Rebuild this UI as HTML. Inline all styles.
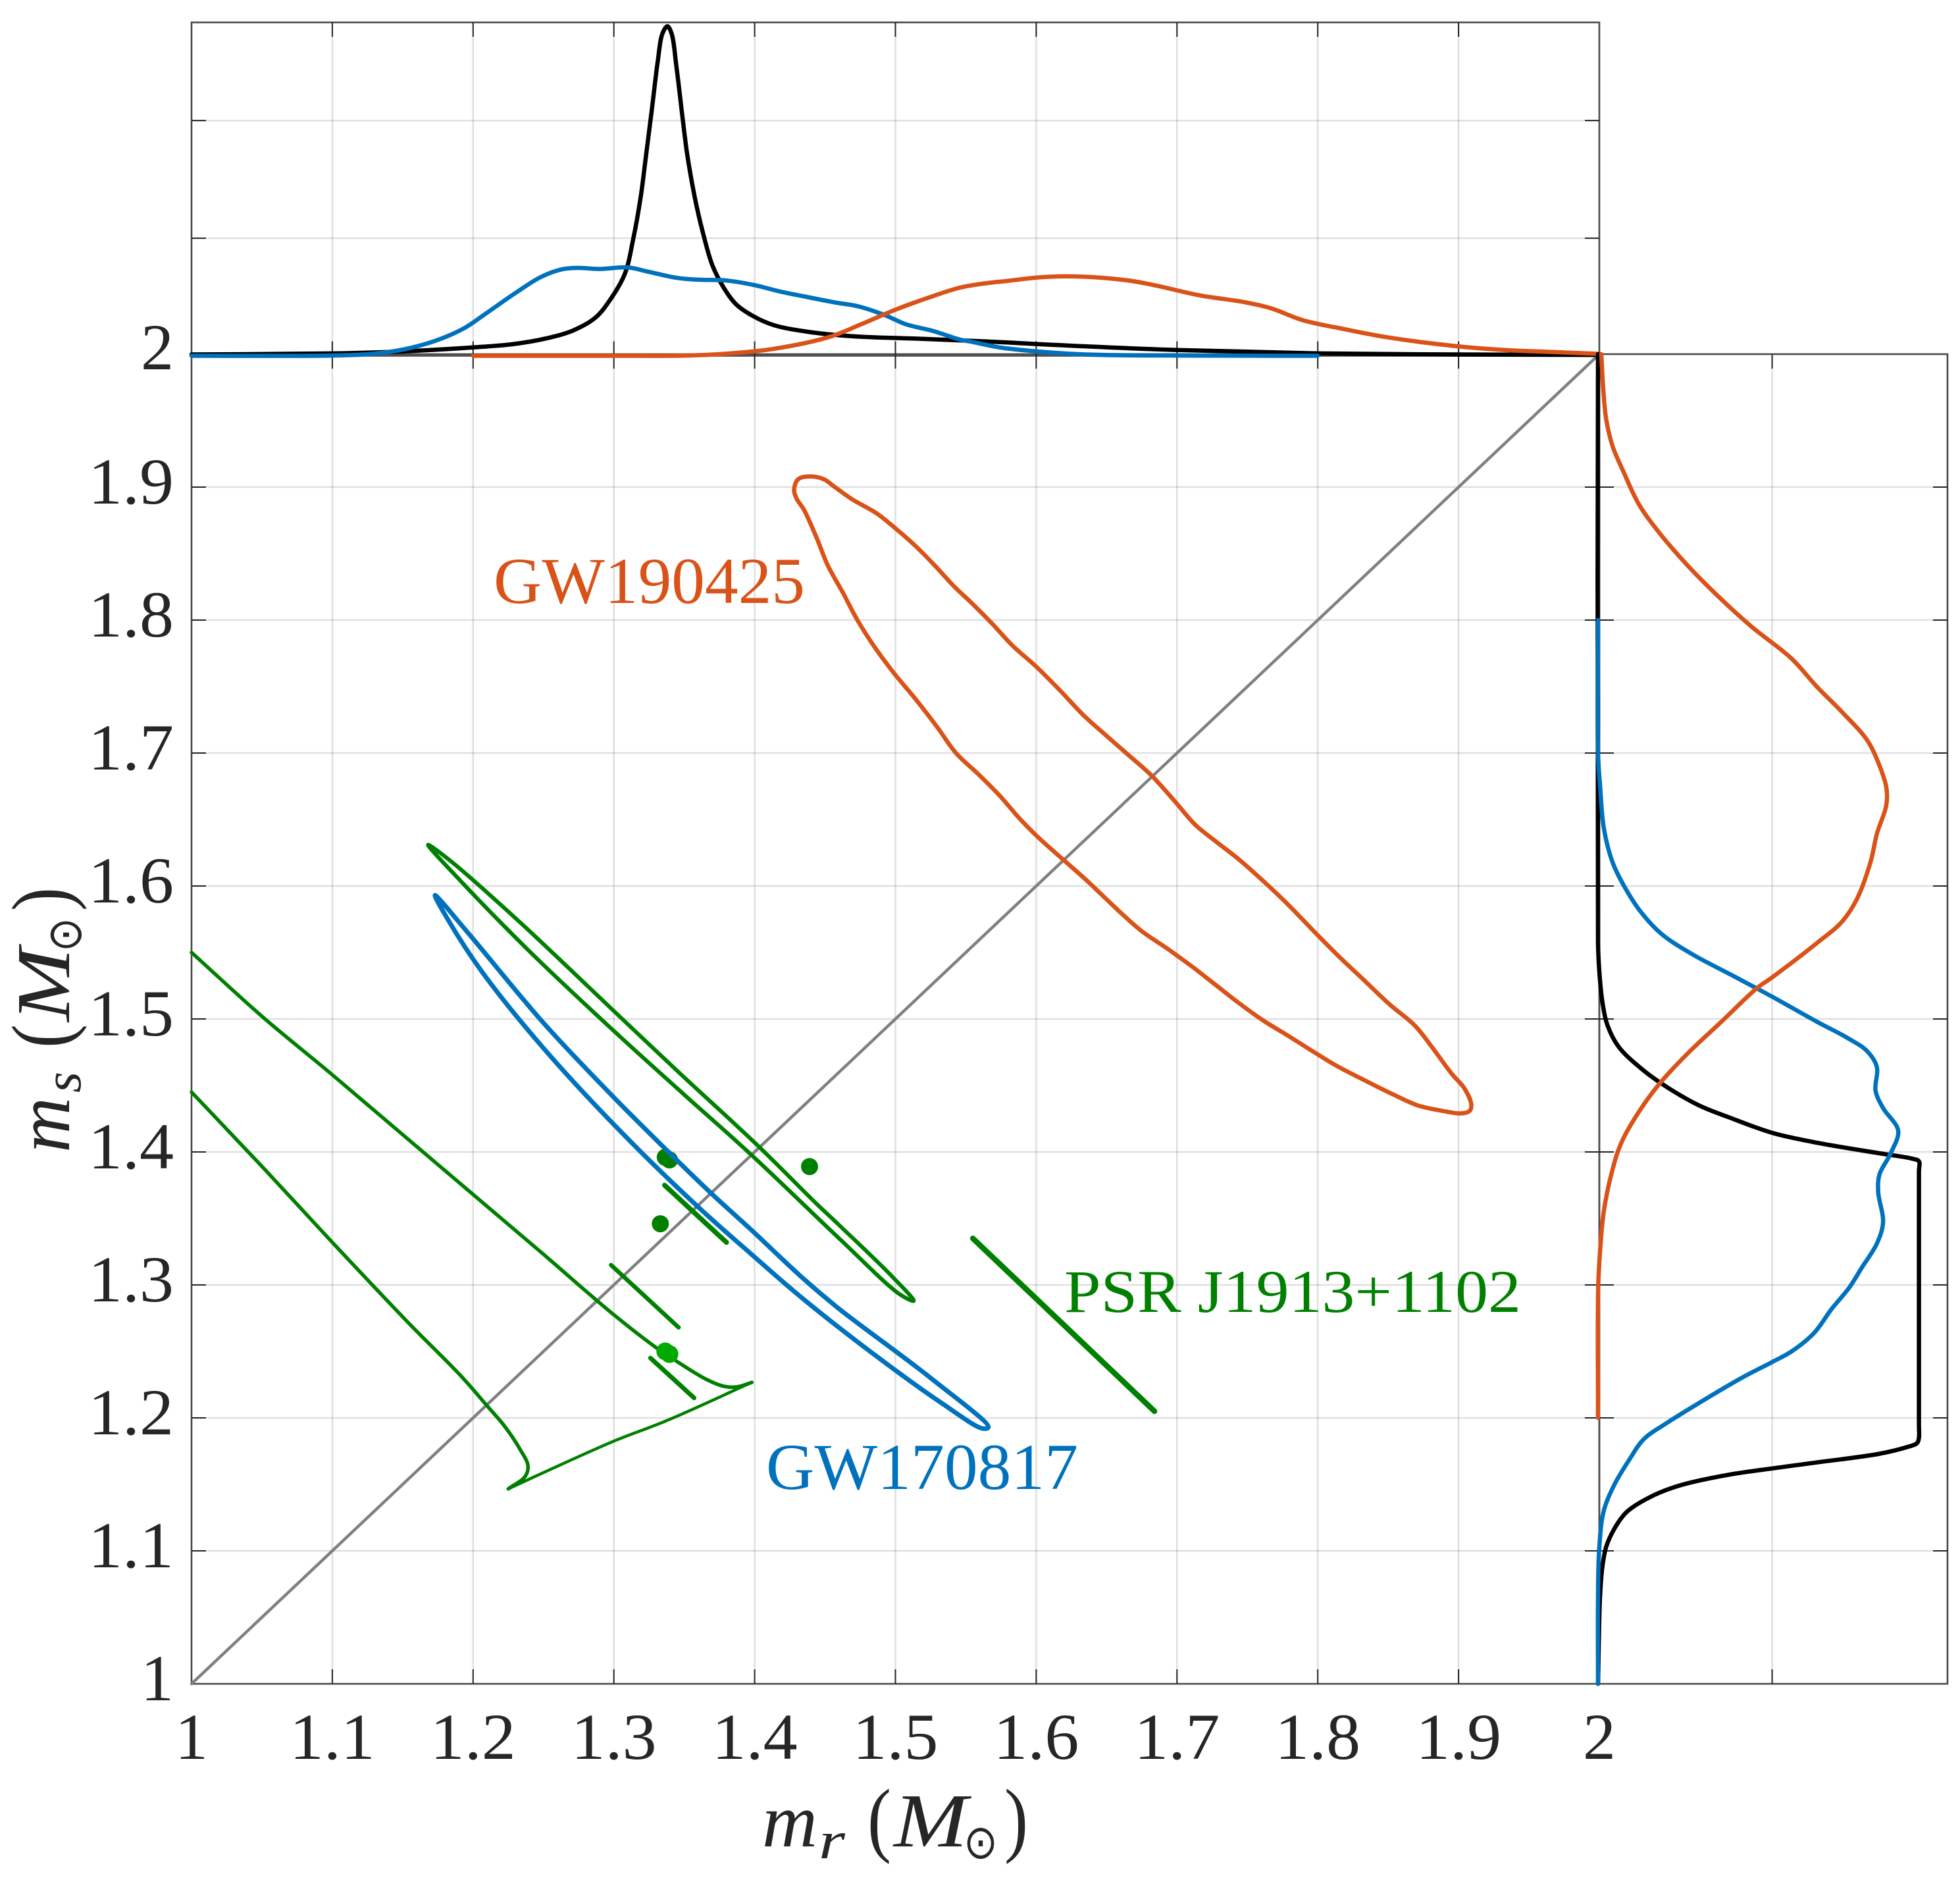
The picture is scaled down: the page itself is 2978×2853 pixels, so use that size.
<!DOCTYPE html>
<html lang="en">
<head>
<meta charset="utf-8">
<title>Neutron star binary mass posteriors</title>
<style>
html,body{margin:0;padding:0;background:#fff;}
svg{display:block;}
text{font-family:"Liberation Serif","DejaVu Serif",serif;fill:#262626;}
.tick-label{font-size:100px;}
</style>
</head>
<body>
<svg id="chart" xmlns="http://www.w3.org/2000/svg" width="2978" height="2853" viewBox="0 0 2978 2853">
  <rect x="0" y="0" width="2978" height="2853" fill="#ffffff"/>
  <g id="grid"></g>
  <g id="axes"></g>
  <g id="series"></g>
  <g id="labels"></g>

  <text x="750" y="916" font-size="100" textLength="473" lengthAdjust="spacingAndGlyphs" style="fill:#D95319">GW190425</text>
  <text x="1164" y="2262" font-size="100" textLength="474" lengthAdjust="spacingAndGlyphs" style="fill:#0072BD">GW170817</text>
  <text x="1617" y="1993" font-size="92" textLength="694" lengthAdjust="spacingAndGlyphs" style="fill:#008000">PSR J1913+1102</text>

  <g>
    <text x="1158" y="2805" font-size="116" font-style="italic" textLength="84" lengthAdjust="spacingAndGlyphs">m</text>
    <text x="1244" y="2823" font-size="80" font-style="italic" textLength="40" lengthAdjust="spacingAndGlyphs">r</text>
    <text x="1318" y="2805" font-size="126" textLength="36" lengthAdjust="spacingAndGlyphs">(</text>
    <text x="1358" y="2805" font-size="116" font-style="italic" textLength="112" lengthAdjust="spacingAndGlyphs">M</text>
    <text x="1464" y="2823" font-size="72" style='font-family:"DejaVu Sans",sans-serif' textLength="52" lengthAdjust="spacingAndGlyphs">⊙</text>
    <text x="1526" y="2805" font-size="126" textLength="36" lengthAdjust="spacingAndGlyphs">)</text>
  </g>
  <g>
    <text transform="translate(105 1751) rotate(-90)" x="0" y="0" font-size="116" font-style="italic" textLength="84" lengthAdjust="spacingAndGlyphs">m</text>
    <text transform="translate(122 1660) rotate(-90)" x="0" y="0" font-size="80" font-style="italic" textLength="32" lengthAdjust="spacingAndGlyphs">s</text>
    <text transform="translate(105 1592) rotate(-90)" x="0" y="0" font-size="126" textLength="36" lengthAdjust="spacingAndGlyphs">(</text>
    <text transform="translate(105 1552) rotate(-90)" x="0" y="0" font-size="116" font-style="italic" textLength="112" lengthAdjust="spacingAndGlyphs">M</text>
    <text transform="translate(123 1446) rotate(-90)" x="0" y="0" font-size="72" style='font-family:"DejaVu Sans",sans-serif' textLength="52" lengthAdjust="spacingAndGlyphs">⊙</text>
    <text transform="translate(105 1384) rotate(-90)" x="0" y="0" font-size="126" textLength="36" lengthAdjust="spacingAndGlyphs">)</text>
  </g>
</svg>

<script>
// ---- Tick data ----
const xTickValues = [1,1.1,1.2,1.3,1.4,1.5,1.6,1.7,1.8,1.9,2];
const xTickLabels = ['1','1.1','1.2','1.3','1.4','1.5','1.6','1.7','1.8','1.9','2'];
const yTickValues = [1,1.1,1.2,1.3,1.4,1.5,1.6,1.7,1.8,1.9];
const yTickLabels = ['1','1.1','1.2','1.3','1.4','1.5','1.6','1.7','1.8','1.9'];
const topDensityTicks = [1,2];
const rightDensityTicks = [1];
const topDensityMax = 2.835;
const rightDensityMax = 2.007;
const diagonalMr = [1,2];
const diagonalMs = [1,2];

// ---- GW190425 contour ----
const gw190425Mr = [1.428,1.431,1.439,1.449,1.457,1.469,1.487,1.500,1.514,1.528,1.542,1.555,1.569,1.583,1.600,1.617,1.634,1.651,1.665,1.682,1.699,1.713,1.727,1.744,1.761,1.778,1.799,1.816,1.833,1.851,1.869,1.881,1.895,1.904,1.909,1.908,1.902,1.888,1.871,1.854,1.833,1.813,1.796,1.778,1.761,1.744,1.727,1.710,1.693,1.675,1.662,1.648,1.634,1.619,1.600,1.588,1.574,1.559,1.543,1.530,1.514,1.499,1.485,1.473,1.463,1.452,1.444,1.435,1.430];
const gw190425Ms = [1.898,1.906,1.908,1.906,1.900,1.891,1.880,1.869,1.856,1.841,1.825,1.812,1.797,1.781,1.765,1.747,1.728,1.712,1.699,1.683,1.663,1.646,1.634,1.620,1.604,1.587,1.564,1.546,1.529,1.511,1.495,1.479,1.459,1.448,1.436,1.431,1.429,1.431,1.435,1.443,1.454,1.465,1.476,1.488,1.499,1.512,1.526,1.540,1.553,1.566,1.578,1.592,1.606,1.620,1.638,1.651,1.668,1.684,1.700,1.719,1.741,1.760,1.780,1.800,1.820,1.841,1.862,1.883,1.891];

// ---- GW170817 contour ----
const gw170817Mr = [1.173,1.197,1.250,1.300,1.3235,1.369,1.398,1.4343,1.460,1.525,1.566,1.562,1.533,1.487,1.4343,1.3983,1.3595,1.307,1.250,1.206,1.182];
const gw170817Ms = [1.593,1.564,1.497,1.441,1.416,1.369,1.341,1.305,1.282,1.230,1.193,1.192,1.211,1.246,1.2896,1.3225,1.359,1.413,1.478,1.536,1.575];

// ---- PSR J1913+1102 contours ----
const psrEllipseMr = [1.168,1.185,1.233,1.300,1.346,1.403,1.444,1.460,1.498,1.513,1.503,1.460,1.398,1.349,1.300,1.239,1.191];
const psrEllipseMs = [1.631,1.618,1.573,1.506,1.460,1.404,1.361,1.345,1.306,1.288,1.293,1.335,1.3975,1.444,1.491,1.552,1.604];
const psrWideMr = [1.000,1.050,1.100,1.150,1.200,1.250,1.300,1.3305,1.3445,1.3656,1.378,1.3876,1.398];
const psrWideMs = [1.550,1.502,1.458,1.413,1.368,1.323,1.2775,1.2525,1.2426,1.229,1.2238,1.2233,1.2267];
const psrEdgeMr = [1.398,1.3377,1.300,1.2534,1.225];
const psrEdgeMs = [1.2267,1.198,1.1825,1.1605,1.1466];
const psrLowerMr = [1.000,1.051,1.100,1.155,1.191,1.210,1.2225,1.233,1.239,1.237,1.225];
const psrLowerMs = [1.445,1.388,1.332,1.2705,1.232,1.209,1.1936,1.177,1.164,1.156,1.1466];

// ---- Thin pulsar bands ----
const bandAMr = [1.336,1.380];
const bandAMs = [1.375,1.332];
const bandBMr = [1.298,1.346];
const bandBMs = [1.315,1.268];
const bandCMr = [1.326,1.357];
const bandCMs = [1.245,1.215];
const bandDMr = [1.555,1.684];
const bandDMs = [1.335,1.205];

// ---- Pulsar points ----
const darkDotMr = [1.3365,1.3395,1.333,1.439];
const darkDotMs = [1.396,1.394,1.346,1.389];
const lightDotMr = [1.3365,1.3395];
const lightDotMs = [1.250,1.248];

// ---- Top marginal (m_r) ----
const topBlackMr = [1.000,1.100,1.151,1.200,1.229,1.252,1.271,1.287,1.2976,1.3079,1.3137,1.3190,1.3228,1.3268,1.3311,1.3345,1.338,1.341,1.3445,1.3485,1.352,1.3575,1.3635,1.370,1.378,1.387,1.399,1.414,1.438,1.469,1.519,1.565,1.600,1.700,1.800,1.900,2.000];
const topBlackDensity = [0.011,0.020,0.038,0.071,0.100,0.148,0.215,0.326,0.481,0.700,0.990,1.345,1.700,2.076,2.497,2.740,2.802,2.740,2.452,2.054,1.721,1.345,1.035,0.769,0.580,0.436,0.337,0.259,0.204,0.166,0.144,0.122,0.100,0.049,0.020,0.011,0.007];
const topBlueMr = [1.000,1.100,1.128,1.151,1.174,1.194,1.209,1.229,1.248,1.263,1.275,1.290,1.310,1.325,1.345,1.360,1.380,1.399,1.418,1.438,1.457,1.474,1.492,1.507,1.527,1.546,1.553,1.574,1.600,1.635,1.700,1.800];
const topBlueDensity = [0,0.002,0.016,0.055,0.131,0.237,0.359,0.525,0.669,0.735,0.747,0.738,0.751,0.713,0.662,0.647,0.640,0.603,0.547,0.498,0.454,0.419,0.348,0.270,0.210,0.137,0.122,0.071,0.038,0.011,0.002,0];
const topOrangeMr = [1.200,1.298,1.352,1.383,1.414,1.453,1.476,1.500,1.523,1.546,1.565,1.579,1.600,1.621,1.645,1.668,1.687,1.716,1.749,1.767,1.789,1.819,1.848,1.895,1.933,1.966,2.000];
const topOrangeDensity = [0,0,0.002,0.020,0.060,0.160,0.270,0.392,0.492,0.580,0.618,0.636,0.665,0.676,0.665,0.636,0.592,0.514,0.454,0.403,0.304,0.226,0.160,0.086,0.049,0.033,0.016];

// ---- Right marginal (m_s) ----
const rightOrangeDensity = [0.019,0.030,0.047,0.083,0.148,0.235,0.350,0.508,0.681,0.882,1.112,1.256,1.400,1.544,1.609,1.656,1.656,1.601,1.565,1.486,1.400,1.256,0.997,0.911,0.709,0.522,0.364,0.249,0.134,0.076,0.033,0.012,0.001,0];
const rightOrangeMs = [2.000,1.974,1.951,1.931,1.911,1.887,1.866,1.842,1.819,1.795,1.771,1.750,1.731,1.710,1.693,1.674,1.661,1.639,1.618,1.590,1.573,1.557,1.531,1.523,1.498,1.475,1.453,1.433,1.407,1.383,1.355,1.326,1.298,1.200];
const rightBlueDensity = [0,0,0.012,0.033,0.083,0.163,0.249,0.364,0.537,0.753,0.997,1.256,1.429,1.544,1.601,1.594,1.637,1.724,1.681,1.616,1.609,1.637,1.601,1.515,1.443,1.342,1.242,1.112,1.000,0.824,0.565,0.393,0.263,0.177,0.091,0.033,0.007,0,0];
const rightBlueMs = [1.800,1.700,1.675,1.644,1.618,1.597,1.580,1.564,1.549,1.534,1.517,1.498,1.486,1.476,1.464,1.446,1.433,1.416,1.399,1.383,1.370,1.347,1.331,1.313,1.298,1.282,1.264,1.250,1.242,1.230,1.210,1.196,1.184,1.168,1.149,1.130,1.102,1.064,1.000];
const rightBlackDensity = [0,0,0.009,0.026,0.055,0.119,0.249,0.393,0.580,0.753,0.997,1.256,1.616,1.803,1.843,1.843,1.843,1.843,1.832,1.774,1.616,1.256,1.000,0.738,0.465,0.292,0.163,0.091,0.047,0.026,0.012,0];
const rightBlackMs = [2.000,1.557,1.533,1.512,1.495,1.479,1.4626,1.449,1.435,1.426,1.4145,1.407,1.399,1.395,1.393,1.385,1.195,1.185,1.181,1.178,1.173,1.1665,1.162,1.157,1.149,1.140,1.129,1.116,1.103,1.089,1.067,1.000];

// ---- Axis functions ----
const NS = 'http://www.w3.org/2000/svg';
const plotLeft = 291, plotRight = 2430, plotTop = 538, plotBottom = 2558;
const topPanelTop = 34, topPanelBottom = 540.5, rightPanelRight = 2959;
const tickLen = 22;
function xMain(v){ return plotLeft + (v - 1) * (plotRight - plotLeft); }
function yMain(v){ return plotBottom - (v - 1) * (plotBottom - plotTop); }
function yTop(v){ return topPanelBottom - v * (topPanelBottom - topPanelTop) / topDensityMax; }
function xRight(v){ return plotRight - 2 + v * (rightPanelRight - plotRight + 2) / rightDensityMax; }

const gridGroup = document.getElementById('grid');
const seriesGroup = document.getElementById('series');
const axesGroup = document.getElementById('axes');
const labelGroup = document.getElementById('labels');

function segment(parent, x1, y1, x2, y2, stroke, width, opacity){
  const el = document.createElementNS(NS, 'line');
  el.setAttribute('x1', x1);
  el.setAttribute('y1', y1);
  el.setAttribute('x2', x2);
  el.setAttribute('y2', y2);
  el.setAttribute('stroke', stroke);
  el.setAttribute('stroke-width', width);
  if (opacity !== undefined) el.setAttribute('stroke-opacity', opacity);
  parent.appendChild(el);
  return el;
}

// Centripetal Catmull-Rom spline through the projected points
function smoothPath(xs, ys, closed){
  const n = xs.length;
  const at = i => closed ? [xs[(i + n) % n], ys[(i + n) % n]] : [xs[Math.max(0, Math.min(n - 1, i))], ys[Math.max(0, Math.min(n - 1, i))]];
  const knot = (p, q) => Math.sqrt(Math.hypot(q[0] - p[0], q[1] - p[1]));
  let d = 'M' + xs[0].toFixed(1) + ' ' + ys[0].toFixed(1);
  const last = closed ? n : n - 1;
  for (let i = 0; i < last; i++){
    const p0 = at(i - 1), p1 = at(i), p2 = at(i + 1), p3 = at(i + 2);
    const t01 = knot(p0, p1), t12 = knot(p1, p2), t23 = knot(p2, p3);
    if (t12 === 0) continue;
    const c = [0, 1].map(k => {
      const chord = (p2[k] - p1[k]) / t12;
      const m1 = t01 > 0 ? (p1[k] - p0[k]) / t01 - (p2[k] - p0[k]) / (t01 + t12) + chord : chord;
      const m2 = t23 > 0 ? chord - (p3[k] - p1[k]) / (t12 + t23) + (p3[k] - p2[k]) / t23 : chord;
      return [p1[k] + m1 * t12 / 3, p2[k] - m2 * t12 / 3];
    });
    d += 'C' + c[0][0].toFixed(1) + ' ' + c[1][0].toFixed(1) + ' ' +
         c[0][1].toFixed(1) + ' ' + c[1][1].toFixed(1) + ' ' +
         p2[0].toFixed(1) + ' ' + p2[1].toFixed(1);
  }
  return d + (closed ? 'Z' : '');
}

function curve(xs, ys, stroke, width, closed){
  const el = document.createElementNS(NS, 'path');
  el.setAttribute('d', smoothPath(xs, ys, closed));
  el.setAttribute('fill', 'none');
  el.setAttribute('stroke', stroke);
  el.setAttribute('stroke-width', width);
  el.setAttribute('stroke-linejoin', 'round');
  el.setAttribute('stroke-linecap', 'round');
  seriesGroup.appendChild(el);
  return el;
}

const gridStroke = '#262626', gridOpacity = 0.14, gridWidth = 2.6;
const frameStroke = '#4a4a4a', frameWidth = 2.6, tickStroke = '#262626', tickWidth = 2;

// ---- Grid ----
xTickValues.slice(1, -1).forEach(v => {
  const a = segment(gridGroup, xMain(v), plotTop, xMain(v), plotBottom, gridStroke, gridWidth, gridOpacity);
  
  
  const b = segment(gridGroup, xMain(v), topPanelTop, xMain(v), topPanelBottom, gridStroke, gridWidth, gridOpacity);
  
  
});
yTickValues.slice(1).forEach(v => {
  const a = segment(gridGroup, plotLeft, yMain(v), plotRight, yMain(v), gridStroke, gridWidth, gridOpacity);
  
  
  const b = segment(gridGroup, plotRight, yMain(v), rightPanelRight, yMain(v), gridStroke, gridWidth, gridOpacity);
  
  
});
topDensityTicks.forEach(v => {
  const a = segment(gridGroup, plotLeft, yTop(v), plotRight, yTop(v), gridStroke, gridWidth, gridOpacity);
  
  
});
rightDensityTicks.forEach(v => {
  const a = segment(gridGroup, xRight(v), plotTop, xRight(v), plotBottom, gridStroke, gridWidth, gridOpacity);
  
  
});

// ---- Frames ----
function frame(x, y, w, h){
  const r = document.createElementNS(NS, 'rect');
  r.setAttribute('x', x);
  r.setAttribute('y', y);
  r.setAttribute('width', w);
  r.setAttribute('height', h);
  r.setAttribute('fill', 'none');
  r.setAttribute('stroke', frameStroke);
  r.setAttribute('stroke-width', frameWidth);
  axesGroup.appendChild(r);
  return r;
}
const mainFrame = frame(plotLeft, plotTop, plotRight - plotLeft, plotBottom - plotTop);


const topFrame = frame(plotLeft, topPanelTop, plotRight - plotLeft, topPanelBottom - topPanelTop);


const rightFrame = frame(plotRight, plotTop, rightPanelRight - plotRight, plotBottom - plotTop);



// ---- Ticks ----
xTickValues.slice(1, -1).forEach(v => {
  const x = xMain(v);
  [[plotBottom, plotBottom - tickLen], [plotTop, plotTop + tickLen], [topPanelTop, topPanelTop + tickLen], [topPanelBottom, topPanelBottom - tickLen]].forEach(p => {
    const t = segment(axesGroup, x, p[0], x, p[1], tickStroke, tickWidth);
    
    
  });
});
yTickValues.slice(1).forEach(v => {
  const y = yMain(v);
  [[plotLeft, plotLeft + tickLen], [plotRight, plotRight - tickLen], [plotRight, plotRight + tickLen], [rightPanelRight, rightPanelRight - tickLen]].forEach(p => {
    const t = segment(axesGroup, p[0], y, p[1], y, tickStroke, tickWidth);
    
    
  });
});
topDensityTicks.forEach(v => {
  const y = yTop(v);
  [[plotLeft, plotLeft + tickLen], [plotRight, plotRight - tickLen]].forEach(p => {
    const t = segment(axesGroup, p[0], y, p[1], y, tickStroke, tickWidth);
    
    
  });
});
rightDensityTicks.forEach(v => {
  const x = xRight(v);
  [[plotTop, plotTop + tickLen], [plotBottom, plotBottom - tickLen]].forEach(p => {
    const t = segment(axesGroup, x, p[0], x, p[1], tickStroke, tickWidth);
    
    
  });
});

// ---- Series ----
const orange = '#D95319', blue = '#0072BD', green = '#008000', lightGreen = '#00AA00', black = '#000000';

const diagonal = curve(diagonalMr.map(xMain), diagonalMs.map(yMain), '#808080', 4.5, false);



const psrWide = curve(psrWideMr.map(xMain), psrWideMs.map(yMain), green, 5.5, false);


const psrEdge = curve(psrEdgeMr.map(xMain), psrEdgeMs.map(yMain), green, 4.5, false);


const psrLower = curve(psrLowerMr.map(xMain), psrLowerMs.map(yMain), green, 5.5, false);


const psrEllipse = curve(psrEllipseMr.map(xMain), psrEllipseMs.map(yMain), green, 6, true);



const bandA = curve(bandAMr.map(xMain), bandAMs.map(yMain), green, 7.5, false);


const bandB = curve(bandBMr.map(xMain), bandBMs.map(yMain), green, 6.5, false);


const bandC = curve(bandCMr.map(xMain), bandCMs.map(yMain), green, 7, false);


const bandD = curve(bandDMr.map(xMain), bandDMs.map(yMain), green, 8.5, false);



darkDotMr.forEach((m, i) => {
  const c = document.createElementNS(NS, 'circle');
  c.setAttribute('cx', xMain(m));
  c.setAttribute('cy', yMain(darkDotMs[i]));
  c.setAttribute('r', 13);
  c.setAttribute('fill', green);
  
  
  seriesGroup.appendChild(c);
});
lightDotMr.forEach((m, i) => {
  const c = document.createElementNS(NS, 'circle');
  c.setAttribute('cx', xMain(m));
  c.setAttribute('cy', yMain(lightDotMs[i]));
  c.setAttribute('r', 13.5);
  c.setAttribute('fill', lightGreen);
  
  
  seriesGroup.appendChild(c);
});

const blueContour = curve(gw170817Mr.map(xMain), gw170817Ms.map(yMain), blue, 7, true);


const orangeContour = curve(gw190425Mr.map(xMain), gw190425Ms.map(yMain), orange, 6.5, true);



const topBlack = curve(topBlackMr.map(xMain), topBlackDensity.map(yTop), black, 6.5, false);


const topBlue = curve(topBlueMr.map(xMain), topBlueDensity.map(yTop), blue, 6.5, false);


const topOrange = curve(topOrangeMr.map(xMain), topOrangeDensity.map(yTop), orange, 6.5, false);



const rightBlack = curve(rightBlackDensity.map(xRight), rightBlackMs.map(yMain), black, 6.5, false);


const rightBlue = curve(rightBlueDensity.map(xRight), rightBlueMs.map(yMain), blue, 6.5, false);


const rightOrange = curve(rightOrangeDensity.map(xRight), rightOrangeMs.map(yMain), orange, 6.5, false);



// ---- Tick labels ----
xTickValues.forEach((v, i) => {
  const t = document.createElementNS(NS, 'text');
  t.setAttribute('x', xMain(v));
  t.setAttribute('y', 2672);
  t.setAttribute('text-anchor', 'middle');
  t.setAttribute('class', 'tick-label');
  if (xTickLabels[i].length === 3) t.setAttribute('textLength', 130);
  if (xTickLabels[i].length === 3) t.setAttribute('lengthAdjust', 'spacingAndGlyphs');
  
  
  t.textContent = xTickLabels[i];
  labelGroup.appendChild(t);
});
yTickValues.forEach((v, i) => {
  const t = document.createElementNS(NS, 'text');
  t.setAttribute('x', 264);
  t.setAttribute('y', yMain(v) + 25);
  t.setAttribute('text-anchor', 'end');
  t.setAttribute('class', 'tick-label');
  if (yTickLabels[i].length === 3) t.setAttribute('textLength', 130);
  if (yTickLabels[i].length === 3) t.setAttribute('lengthAdjust', 'spacingAndGlyphs');
  
  
  t.textContent = yTickLabels[i];
  labelGroup.appendChild(t);
});
const yTopLabel = document.createElementNS(NS, 'text');
yTopLabel.setAttribute('x', 264);
yTopLabel.setAttribute('y', 561);
yTopLabel.setAttribute('text-anchor', 'end');
yTopLabel.setAttribute('class', 'tick-label');


yTopLabel.textContent = xTickLabels[xTickLabels.length - 1];
labelGroup.appendChild(yTopLabel);
</script>
</body>
</html>
